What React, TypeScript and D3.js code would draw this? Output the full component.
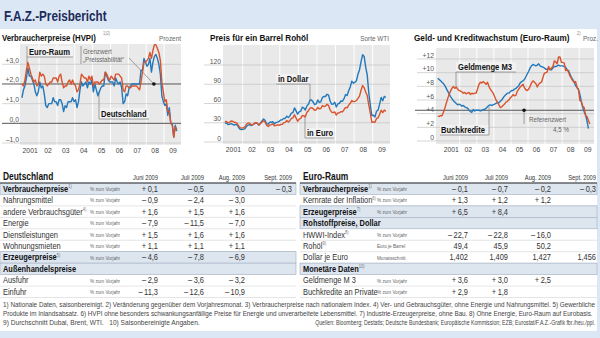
import React from "react";
import * as d3 from "d3";

const FONT = "'Liberation Sans','Arimo',Arial,sans-serif";
const RED = "#d9532c";
const BLUE = "#2378bb";
const GRAYBG = "#e9e9e9";
const SX = 0.8;

const yearLabels = ["2001", "02", "03", "04", "05", "06", "07", "08", "09"];

// ---- Chart 1: HVPI (Jan 2001 - Sep 2009), % yoy
const hvpiStart = 2001;
const euroRaumHVPI = [
  2.0, 1.9, 2.2, 2.7, 3.1, 2.8, 2.5, 2.3, 2.1, 2.2, 1.9, 2.0,
  2.6, 2.4, 2.5, 2.4, 2.0, 1.9, 2.0, 2.1, 2.1, 2.3, 2.3, 2.3,
  2.1, 2.4, 2.5, 2.1, 1.8, 1.9, 1.9, 2.1, 2.2, 2.0, 2.2, 2.0,
  1.9, 1.6, 1.7, 2.0, 2.5, 2.4, 2.3, 2.3, 2.1, 2.4, 2.2, 2.4,
  1.9, 2.1, 2.1, 2.1, 2.0, 2.1, 2.2, 2.2, 2.6, 2.5, 2.3, 2.2,
  2.4, 2.3, 2.2, 2.5, 2.5, 2.5, 2.4, 2.3, 1.7, 1.6, 1.9, 1.9,
  1.8, 1.8, 1.9, 1.9, 1.9, 1.9, 1.8, 1.7, 2.1, 2.6, 3.1, 3.1,
  3.2, 3.3, 3.6, 3.3, 3.7, 4.0, 4.0, 3.8, 3.6, 3.2, 2.1, 1.6,
  1.1, 1.2, 0.6, 0.6, 0.0, -0.1, -0.7, -0.2, -0.3,
];
const deutschlandHVPI = [
  1.3, 1.7, 1.9, 2.3, 2.8, 2.4, 2.4, 2.2, 2.0, 1.6, 1.4, 1.6,
  2.1, 1.8, 1.9, 1.5, 0.9, 0.8, 1.0, 1.0, 1.0, 1.3, 1.1, 1.1,
  0.9, 1.2, 1.2, 1.0, 0.6, 0.9, 0.8, 1.1, 1.1, 1.1, 1.3, 1.1,
  1.2, 0.8, 1.1, 1.7, 2.1, 1.9, 2.0, 2.1, 1.8, 2.1, 2.0, 2.2,
  1.6, 2.0, 1.7, 1.4, 1.6, 1.8, 1.9, 1.9, 2.6, 2.4, 2.2, 2.1,
  2.1, 2.1, 1.9, 2.3, 2.1, 2.0, 2.1, 1.8, 1.0, 1.1, 1.5, 1.4,
  1.8, 1.9, 2.0, 2.0, 2.0, 2.0, 2.0, 2.0, 2.7, 2.7, 3.3, 3.1,
  2.9, 3.0, 3.3, 2.6, 3.1, 3.4, 3.5, 3.3, 3.0, 2.5, 1.4, 1.1,
  0.9, 1.0, 0.4, 0.8, 0.0, 0.0, -0.7, -0.1, -0.4,
];
const hvpiTicks = [-1, 0, 1, 2, 3];

// ---- Chart 2: WTI oil (Jan 2001 - Sep 2009)
const oilStart = 2001;
const oilDollar = [
  29.6, 29.6, 27.2, 27.4, 28.6, 27.6, 26.4, 27.4, 26.2, 22.2, 19.6, 19.4,
  19.7, 20.7, 24.5, 26.2, 27.0, 25.5, 26.9, 28.4, 29.7, 28.9, 26.3, 29.4,
  32.9, 35.9, 33.5, 28.3, 28.1, 30.7, 30.8, 31.6, 28.3, 30.3, 31.1, 32.1,
  34.3, 34.7, 36.7, 36.7, 40.3, 38.0, 40.7, 44.9, 45.9, 53.1, 48.5, 43.3,
  46.8, 48.0, 54.3, 53.0, 49.8, 56.3, 58.7, 65.0, 65.6, 62.4, 58.3, 59.4,
  65.5, 61.6, 62.7, 69.4, 70.8, 70.9, 74.4, 73.0, 63.8, 58.9, 59.1, 62.0,
  54.5, 59.3, 60.4, 63.9, 63.5, 67.5, 74.1, 72.4, 79.9, 85.8, 94.8, 91.7,
  93.0, 95.4, 105.5, 112.6, 125.4, 136.0, 133.4, 116.7, 104.1, 76.6, 57.3, 41.1,
  41.7, 39.1, 47.9, 49.6, 59.0, 69.6, 64.2, 71.0, 69.4,
];
const oilEuro = [
  31.6, 32.1, 29.9, 30.7, 32.7, 32.4, 30.7, 30.4, 28.8, 24.5, 22.1, 21.7,
  22.3, 23.8, 28.0, 29.6, 29.4, 26.7, 27.1, 29.0, 30.3, 29.5, 26.3, 28.9,
  31.0, 33.3, 31.0, 26.1, 24.3, 26.3, 27.1, 28.4, 25.2, 25.9, 26.6, 26.1,
  27.2, 27.4, 29.9, 30.6, 33.6, 31.3, 33.2, 36.9, 37.6, 42.5, 37.3, 32.3,
  35.7, 36.9, 41.1, 41.0, 39.2, 46.3, 48.8, 52.9, 53.6, 51.9, 49.4, 50.1,
  54.1, 51.6, 52.2, 56.6, 55.4, 56.0, 58.7, 57.0, 50.1, 46.7, 45.8, 46.9,
  41.9, 45.3, 45.6, 47.3, 47.0, 50.3, 54.0, 53.2, 57.5, 60.3, 64.6, 63.0,
  63.2, 64.7, 67.9, 71.5, 80.6, 88.0, 84.6, 78.0, 72.4, 57.5, 45.0, 30.6,
  31.5, 30.6, 36.7, 37.6, 43.2, 49.6, 45.6, 49.8, 47.7,
];
const oilTicks = [0, 30, 60, 90, 120];

// ---- Chart 3: M3 and loans (from Sep 2000), % yoy
const moneyStart = 2000 + 8 / 12;
const geldmengeM3 = [
  3.6, 3.6, 3.7, 3.7,
  4.2, 4.8, 5.5, 6.2, 6.8, 7.3, 7.7, 8.0, 7.7, 7.9, 7.6, 7.4,
  7.3, 7.2, 7.0, 7.1, 6.9, 7.0, 7.1, 6.8, 7.0, 6.9, 7.0, 7.0,
  7.6, 8.3, 8.6, 8.5, 8.7, 8.5, 8.3, 8.6, 8.0, 7.6, 7.3, 7.0,
  6.5, 6.0, 5.7, 5.3, 4.9, 5.0, 5.2, 5.4, 5.7, 5.8, 6.0, 6.3,
  6.5, 6.8, 6.6, 6.7, 7.3, 7.6, 7.9, 8.1, 8.3, 7.8, 7.5, 7.4,
  7.6, 8.0, 8.5, 8.8, 8.6, 8.4, 7.9, 8.3, 8.5, 8.6, 9.3, 9.9,
  10.0, 10.1, 10.9, 10.4, 10.7, 10.9, 11.7, 11.6, 11.3, 12.3, 12.3, 11.5,
  11.5, 11.4, 10.3, 10.4, 10.1, 9.5, 9.2, 8.8, 8.6, 8.7, 7.8, 7.5,
  5.9, 5.8, 5.1, 4.9, 3.7, 3.6, 3.0, 2.5,
];
const buchkredite = [
  9.2, 9.0, 8.8, 8.6,
  8.4, 8.1, 7.7, 7.3, 6.9, 6.5, 6.2, 5.9, 5.7, 5.5, 5.3, 5.4,
  5.3, 5.1, 5.2, 5.0, 4.9, 4.8, 4.5, 4.3, 4.2, 4.6, 4.4, 4.5,
  4.5, 4.5, 4.4, 4.5, 4.6, 4.6, 4.8, 5.0, 5.2, 5.3, 5.2, 5.3,
  5.4, 5.5, 5.6, 5.6, 5.8, 6.0, 6.3, 6.6, 6.8, 7.0, 7.0, 7.2,
  7.4, 7.4, 7.6, 7.7, 7.9, 8.1, 8.5, 8.7, 8.8, 9.0, 9.4, 9.8,
  10.2, 10.7, 11.0, 11.2, 11.1, 11.0, 11.1, 11.3, 11.0, 10.9, 10.8, 10.7,
  10.5, 10.5, 10.6, 10.5, 10.4, 10.7, 10.9, 10.9, 11.0, 11.1, 11.0, 11.0,
  11.0, 10.9, 10.8, 10.4, 10.3, 9.8, 9.3, 9.0, 8.6, 8.1, 7.8, 7.6,
  6.8, 5.8, 4.9, 4.3, 3.8, 2.9, 1.8,
];
const moneyTicks = [0, 2, 4, 6, 8, 10, 12];
const referenzwert = 4.5;

// ---- Tables
const months = ["Juni 2009", "Juli 2009", "Aug. 2009", "Sept. 2009"];

const deLabels = ["Verbraucherpreise", "Nahrungsmittel", "andere Verbrauchsgüter", "Energie", "Dienstleistungen", "Wohnungsmieten", "Erzeugerpreise", "Außenhandelspreise", "Ausfuhr", "Einfuhr"];
const deNotes = ["1)", "", "4)", "", "", "", "5)", "", "", ""];
const deUnits = ["% zum Vorjahr", "% zum Vorjahr", "% zum Vorjahr", "% zum Vorjahr", "% zum Vorjahr", "% zum Vorjahr", "% zum Vorjahr", "", "% zum Vorjahr", "% zum Vorjahr"];
const deJuni = [0.1, -0.9, 1.6, -7.9, 1.5, 1.1, -4.6, null, -2.9, -11.3];
const deJuli = [-0.5, -2.4, 1.5, -11.5, 1.6, 1.1, -7.8, null, -3.6, -12.6];
const deAug = [0.0, -3.0, 1.6, -7.0, 1.6, 1.1, -6.9, null, -3.2, -10.9];
const deSept = [-0.3, null, null, null, null, null, null, null, null, null];
const deBold = [true, false, false, false, false, false, true, true, false, false];

const euLabels = ["Verbraucherpreise", "Kernrate der Inflation", "Erzeugerpreise", "Rohstoffpreise, Dollar", "HWWI-Index", "Rohöl", "Dollar je Euro", "Monetäre Daten", "Geldmenge M 3", "Buchkredite an Private"];
const euNotes = ["1)", "6)", "7)", "", "8)", "9)", "", "10)", "", ""];
const euUnits = ["% zum Vorjahr", "% zum Vorjahr", "% zum Vorjahr", "", "% zum Vorjahr", "Euro je Barrel", "Monatsschnitt", "", "% zum Vorjahr", "% zum Vorjahr"];
const euJuni = [-0.1, 1.3, 6.5, null, -22.7, 49.4, 1.402, null, 3.6, 2.9];
const euJuli = [-0.7, 1.2, 8.4, null, -22.8, 45.9, 1.409, null, 3.0, 1.8];
const euAug = [-0.2, 1.2, null, null, -16.0, 50.2, 1.427, null, 2.5, null];
const euSept = [-0.3, null, null, null, null, null, 1.456, null, null, null];
const euBold = [true, false, true, true, false, false, false, true, false, false];
const euFormat = ["signed", "signed", "signed", "", "signed", "plain1", "plain3", "", "signed", "signed"];

const footnote1 = "1) Nationale Daten, saisonbereinigt.  2) Veränderung gegenüber dem Vorjahresmonat.  3) Verbraucherpreise nach nationalem Index.  4) Ver- und Gebrauchsgüter, ohne Energie und Nahrungsmittel.  5) Gewerbliche";
const footnote2 = "Produkte im Inlandsabsatz.  6) HVPI ohne besonders schwankungsanfällige Preise für Energie und unverarbeitete Lebensmittel.  7) Industrie-Erzeugerpreise, ohne Bau.  8) Ohne Energie, Euro-Raum auf Eurobasis.";
const footnote3a = "9) Durchschnitt Dubai, Brent, WTI.   10) Saisonbereinigte Angaben.";
const footnote3b = "Quellen: Bloomberg; Destatis; Deutsche Bundesbank; Europäische Kommission; EZB; Eurostat/F.A.Z.-Grafik fbr./heu./ppl.";

function fmtNum(v: number | null, kind: string): string {
  if (v === null || v === undefined) return "";
  const comma = (s: string) => s.replace(".", ",");
  if (kind === "plain1") return comma(v.toFixed(1));
  if (kind === "plain3") return comma(v.toFixed(3));
  if (v === 0) return "0,0";
  const s = comma(Math.abs(v).toFixed(1));
  return (v > 0 ? "+\u2009" : "\u2013\u2009") + s;
}

// condensed text: horizontally scaled
function T(props: any) {
  const { x, y, sx = SX, children, ...rest } = props;
  return (
    <text transform={`translate(${x},${y}) scale(${sx},1)`} fontFamily={FONT} {...rest}>
      {children}
    </text>
  );
}

type Series = { values: number[]; start: number; color: string };

function LineChart(props: {
  x2001: number; yearW: number; left: number; right: number; top: number; bottom: number;
  yDomain: [number, number]; yRange: [number, number]; ticks: number[]; tickFmt: (v: number) => string;
  labelRight: number; series: Series[]; dark: number[]; children?: (x: any, y: any) => React.ReactNode;
}) {
  const { x2001, yearW, left, right, top, bottom, series } = props;
  const x = d3.scaleLinear().domain([2001, 2010]).range([x2001, x2001 + 9 * yearW]);
  const y = d3.scaleLinear().domain(props.yDomain).range(props.yRange);
  const line = d3.line<[number, number]>().x((d) => x(d[0])).y((d) => y(d[1]));
  return (
    <g>
      <rect x={left} y={top} width={right - left} height={bottom - top} fill={GRAYBG} />
      {d3.range(2002, 2010).map((yr) => (
        <line key={yr} x1={x(yr)} x2={x(yr)} y1={top} y2={bottom} stroke="#fff" strokeWidth={1} />
      ))}
      {props.ticks.map((t) => (
        <g key={t}>
          <line x1={props.labelRight - 17} x2={right} y1={y(t)} y2={y(t)}
            stroke={props.dark.includes(t) ? "#555" : "#c4c4c4"} strokeWidth={props.dark.includes(t) ? 1 : 0.7} />
          <T x={props.labelRight} y={y(t) - 1.5} sx={0.85} textAnchor="end" fontSize={8} fill="#555">
            {props.tickFmt(t)}
          </T>
        </g>
      ))}
      {yearLabels.map((lab, i) => (
        <T key={lab} x={x(2001 + i + 0.5)} y={bottom + 7.5} sx={0.85} textAnchor="middle" fontSize={8} fill="#444">
          {lab}
        </T>
      ))}
      {props.children ? props.children(x, y) : null}
      {series.map((s, k) => (
        <path key={k} d={line(s.values.map((v, i) => [s.start + (i + 0.5) / 12, v]))!}
          fill="none" stroke={s.color} strokeWidth={1.4} strokeLinejoin="round" />
      ))}
    </g>
  );
}

const sgn = (d: number) => (v: number) => (v > 0 ? "+" : v < 0 ? "\u2013" : "") + Math.abs(v).toFixed(d).replace(".", ",");

function Leader(props: { d: string }) {
  return <path d={props.d} fill="none" stroke="#888" strokeWidth={0.8} />;
}

function Table(props: {
  x0: number; width: number; title: string; labels: string[]; notes: string[]; units: string[];
  cols: (number | null)[][]; bold: boolean[]; formats?: string[]; colRight: number[]; unitX: number;
}) {
  const { x0, width } = props;
  const top = 183;
  const rowH = 11.45;
  return (
    <g>
      <T x={x0 + 3} y={179.5} fontSize={10.5} fontWeight="bold" fill="#111">{props.title}</T>
      {months.map((m, j) => (
        <T key={m} x={props.colRight[j]} y={179.5} fontSize={7.2} textAnchor="end" fill="#333">{m}</T>
      ))}
      {props.labels.map((lab, i) => {
        const ry = top + i * rowH;
        return (
          <g key={lab}>
            {props.bold[i] ? (
              <rect x={x0} y={ry} width={width} height={rowH} fill="#dde5ef" stroke="#9fadc0" strokeWidth={0.6} />
            ) : (
              <line x1={x0} x2={x0 + width} y1={ry + rowH} y2={ry + rowH} stroke="#d4d4d4" strokeWidth={0.6} />
            )}
            <T x={x0 + 3} y={ry + 8.7} fontSize={9.3} fontWeight={props.bold[i] ? "bold" : "normal"} fill={props.bold[i] ? "#111" : "#333"}>
              {lab}
              {props.notes[i] ? <tspan fontSize={5} dy={-3.5} fill="#777" fontWeight="normal">{props.notes[i]}</tspan> : null}
            </T>
            <T x={props.unitX} y={ry + 8} fontSize={5.8} fill="#666">{props.units[i]}</T>
            {props.cols.map((col, j) => (
              <T key={j} x={props.colRight[j]} y={ry + 8.7} fontSize={9.3} textAnchor="end" fill="#333">
                {fmtNum(col[i], props.formats ? props.formats[i] : "signed")}
              </T>
            ))}
          </g>
        );
      })}
      <line x1={x0} x2={x0 + width} y1={top} y2={top} stroke="#333" strokeWidth={1} />
    </g>
  );
}

export default function App() {
  return (
    <svg width={600} height={338} style={{ position: "absolute", left: 0, top: 0 }} fontFamily={FONT}>
      <rect x={0} y={0} width={600} height={338} fill="#dce7f5" />
      <rect x={0} y={29} width={597} height={302} fill="#fff" />
      <T x={4} y={20.5} sx={0.78} fontSize={15} fontWeight="bold" fill="#1c2b58">F.A.Z.-Preisbericht</T>

      {/* Chart 1 */}
      <T x={2} y={41} sx={0.82} fontSize={9.5} fontWeight="bold" fill="#111">Verbraucherpreise (HVPI)</T>
      <T x={103} y={35} fontSize={5} fill="#888">1)2)</T>
      <T x={181} y={41} fontSize={8} textAnchor="end" fill="#666">Prozent</T>
      <LineChart x2001={21.2} yearW={17.86} left={20} right={181} top={44} bottom={145}
        yDomain={[-1, 3]} yRange={[143, 64.3]} ticks={hvpiTicks} tickFmt={sgn(1)} labelRight={19}
        dark={[0, 2]}
        series={[{ values: deutschlandHVPI, start: hvpiStart, color: BLUE }, { values: euroRaumHVPI, start: hvpiStart, color: RED }]}>
        {(x: any, y: any) => (
          <g>
            <rect x={27} y={46} width={46} height={11} fill="#f4f4f4" opacity={0.8} />
            <Leader d={`M27,46V${y(3.0)}M27,57H73`} />
            <T x={29} y={54.5} fontSize={9.5} fontWeight="bold" fill="#111">Euro-Raum</T>
            <Leader d={`M81,46V64`} />
            <T x={83} y={53.5} fontSize={7.8} fill="#666">Grenzwert</T>
            <T x={83} y={62} fontSize={7.8} fill="#666">„Preisstabilität“</T>
            <Leader d={`M129,58L${x(2008.43)},${y(2)}`} />
            <circle cx={x(2008.43)} cy={y(2)} r={1.8} fill="#111" />
            <rect x={99} y={108} width={50} height={11} fill="#f4f4f4" opacity={0.8} />
            <Leader d={`M99,${y(1.6)}V119H149`} />
            <T x={101} y={116.5} fontSize={9.5} fontWeight="bold" fill="#111">Deutschland</T>
          </g>
        )}
      </LineChart>

      {/* Chart 2 */}
      <T x={210} y={41} sx={0.86} fontSize={9.5} fontWeight="bold" fill="#111">Preis für ein Barrel Rohöl</T>
      <T x={389} y={41} fontSize={8} textAnchor="end" fill="#666">Sorte WTI</T>
      <LineChart x2001={224.1} yearW={18.57} left={223} right={390} top={45} bottom={144}
        yDomain={[0, 120]} yRange={[142, 65]} ticks={oilTicks} tickFmt={(v) => String(v)} labelRight={221}
        dark={[]}
        series={[{ values: oilDollar, start: oilStart, color: BLUE }, { values: oilEuro, start: oilStart, color: RED }]}>
        {(x: any, y: any) => (
          <g>
            <rect x={276} y={74} width={34} height={10} fill="#f4f4f4" opacity={0.8} />
            <Leader d={`M276,84H310V${y(64)}`} />
            <T x={278} y={82} fontSize={9.5} fontWeight="bold" fill="#111">in Dollar</T>
            <rect x={305} y={128} width={29} height={10} fill="#f4f4f4" opacity={0.8} />
            <Leader d={`M305,${y(42)}V138H334`} />
            <T x={307} y={136} fontSize={9.5} fontWeight="bold" fill="#111">in Euro</T>
          </g>
        )}
      </LineChart>

      {/* Chart 3 */}
      <T x={414} y={41} sx={0.86} fontSize={9.5} fontWeight="bold" fill="#111">Geld- und Kreditwachstum (Euro-Raum)</T>
      <T x={577} y={35} fontSize={5} fill="#888">2)</T>
      <T x={598} y={41} fontSize={8} textAnchor="end" fill="#666">Proz.</T>
      <LineChart x2001={442.7} yearW={17.06} left={436} right={594} top={48} bottom={144}
        yDomain={[0, 12]} yRange={[141, 59]} ticks={moneyTicks} tickFmt={(v) => (v > 0 ? "+" + v : String(v))} labelRight={434}
        dark={[]}
        series={[{ values: buchkredite, start: moneyStart, color: BLUE }, { values: geldmengeM3, start: moneyStart, color: RED }]}>
        {(x: any, y: any) => (
          <g>
            <line x1={415} x2={594} y1={y(referenzwert)} y2={y(referenzwert)} stroke="#555" strokeWidth={1} />
            <rect x={456} y={62} width={60} height={10} fill="#f4f4f4" opacity={0.8} />
            <Leader d={`M516,72H456V${y(8.0)}`} />
            <T x={458} y={70} fontSize={9.5} fontWeight="bold" fill="#111">Geldmenge M3</T>
            <rect x={440} y={125} width={49} height={10} fill="#f4f4f4" opacity={0.8} />
            <Leader d={`M440,135H489V${y(5.0)}`} />
            <T x={441} y={133} fontSize={9.5} fontWeight="bold" fill="#111">Buchkredite</T>
            <Leader d={`M${x(2005.77)},${y(referenzwert)}V124`} />
            <circle cx={x(2005.77)} cy={y(referenzwert)} r={1.8} fill="#111" />
            <T x={529} y={121.5} fontSize={7.8} fill="#666">Referenzwert</T>
            <T x={553} y={131.5} fontSize={7.8} fill="#666">4,5 %</T>
          </g>
        )}
      </LineChart>

      {/* Tables */}
      <Table x0={0} width={296} title="Deutschland" labels={deLabels} notes={deNotes} units={deUnits}
        cols={[deJuni, deJuli, deAug, deSept]} bold={deBold} colRight={[158, 204, 245, 292]} unitX={90} />
      <Table x0={300} width={297} title="Euro-Raum" labels={euLabels} notes={euNotes} units={euUnits}
        cols={[euJuni, euJuli, euAug, euSept]} bold={euBold} formats={euFormat} colRight={[468, 508, 551, 596]} unitX={377} />

      {/* Footnotes */}
      <g fill="#444">
        <T x={3} y={307} sx={0.8} fontSize={7} textLength={740} lengthAdjust="spacingAndGlyphs">{footnote1}</T>
        <T x={3} y={316} sx={0.8} fontSize={7} textLength={737} lengthAdjust="spacingAndGlyphs">{footnote2}</T>
        <T x={3} y={325} sx={0.92} fontSize={7.2} style={{ whiteSpace: "pre" }}>{footnote3a}</T>
        <T x={595} y={325} sx={0.8} fontSize={6.5} textAnchor="end">{footnote3b}</T>
      </g>
    </svg>
  );
}
